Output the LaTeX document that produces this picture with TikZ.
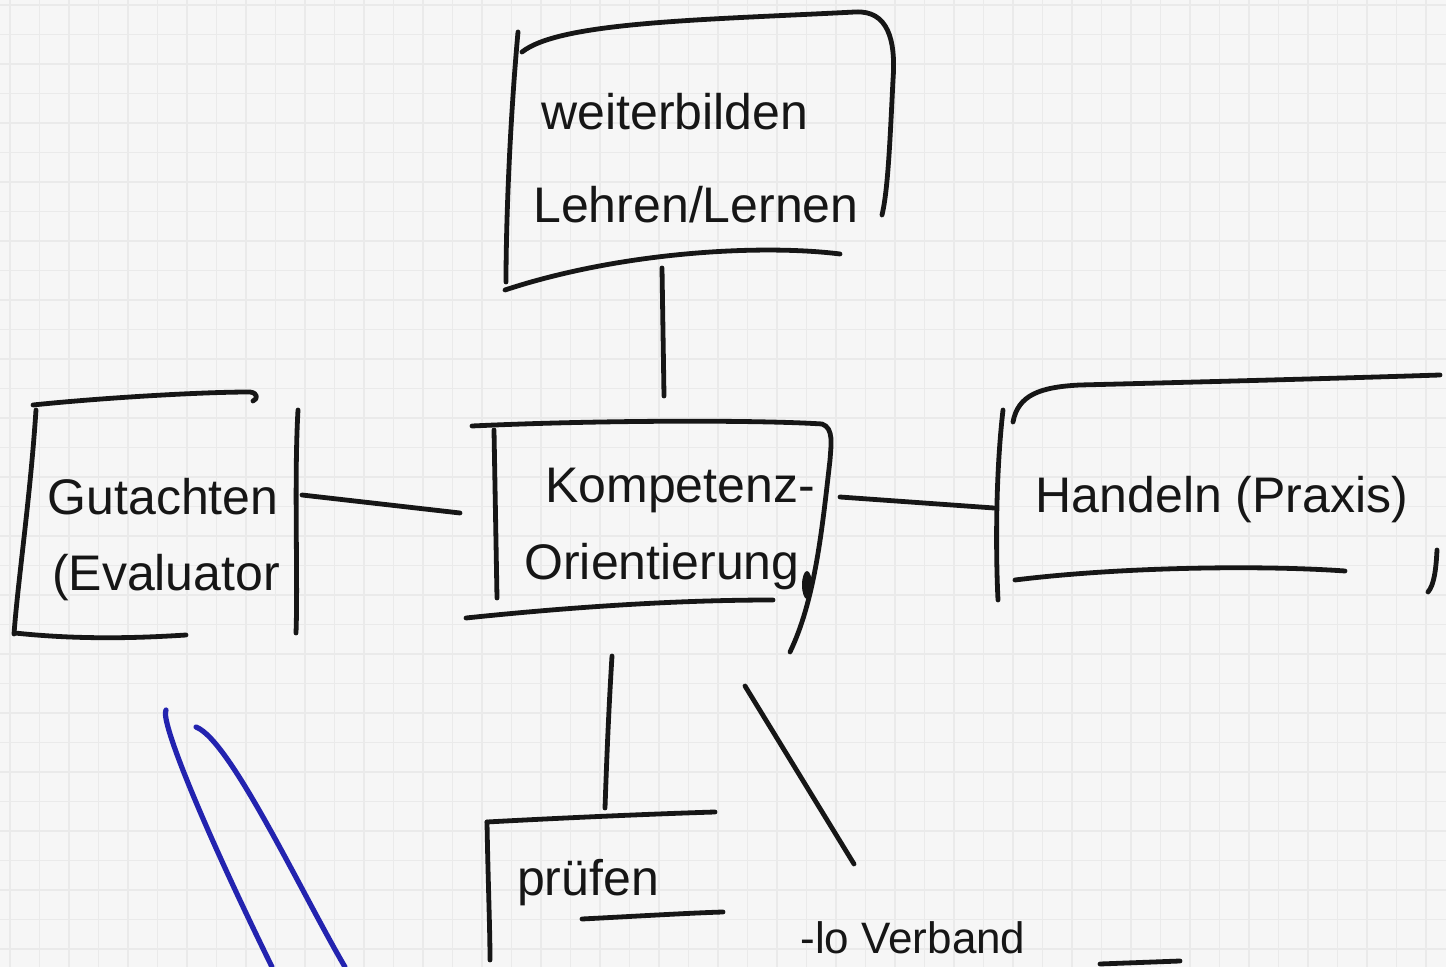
\documentclass[tikz,border=0pt]{standalone}
\usepackage{fontspec}
\setmainfont{Liberation Sans}
\definecolor{paper}{RGB}{246,246,246}
\definecolor{gridc}{RGB}{234,234,234}
\definecolor{ink}{RGB}{22,22,22}
\definecolor{blueink}{RGB}{35,35,175}
\tikzset{
  pen/.style={draw=ink,line width=2.4pt,line cap=round,line join=round},
  bluepen/.style={draw=blueink,line width=2.6pt,line cap=round},
  label/.style={text=ink,font=\fontsize{25}{28}\selectfont,inner sep=0pt,anchor=center},
}
\begin{document}
\begin{tikzpicture}[x=0.5pt,y=-0.5pt]
\useasboundingbox (0,0) rectangle (1446,967);
\fill[paper] (0,0) rectangle (1446,967);
\begin{scope}
\clip (0,0) rectangle (1446,967);
\foreach \i in {0,...,49} {\draw[gridc,line width=0.6pt] (\i*29.5+10,0) -- (\i*29.5+10,967);}
\foreach \j in {0,...,33} {\draw[gridc,line width=0.6pt] (0,\j*29.5+5) -- (1446,\j*29.5+5);}
\end{scope}

% ---- text nodes
\node[label] (w1) at (675,112) {weiterbilden};
\node[label] (w2) at (696,205) {Lehren/Lernen};
\node[label] (k1) at (680,490) {Kompetenz-};
\node[label] (k2) at (662,567) {Orientierung};
\node[label] (g1) at (163,497) {Gutachten};
\node[label] (g2) at (166,578) {(Evaluator};
\node[label] (h1) at (1222,500) {Handeln (Praxis)};
\node[label] (p1) at (588,883) {prüfen};
\node[label,font=\fontsize{22}{24}\selectfont,anchor=south west] (v1) at (800,954) {-lo Verband};

\begin{scope}
\clip (0,0) rectangle (1446,967);
% ---- top box
\draw[pen] (518,32) .. controls (510,120) and (506,220) .. (506,282);
\draw[pen] (522,52) .. controls (560,22) and (700,20) .. (855,12)
  .. controls (888,10) and (896,40) .. (893,80) .. controls (890,140) and (888,190) .. (882,215);
\draw[pen] (505,290) .. controls (620,252) and (760,244) .. (840,254);

% ---- centre box
\draw[pen] (494,430) -- (497,598);
\draw[pen] (472,426) .. controls (600,420) and (760,420) .. (822,424)
  .. controls (834,428) and (831,445) .. (830,460) .. controls (822,530) and (815,600) .. (790,652);
\draw[pen] (466,618) .. controls (600,604) and (700,600) .. (773,600);
\fill[ink] (807,585) ellipse (5 and 14);

% ---- left box
\draw[pen] (33,405) .. controls (100,398) and (200,392) .. (250,392) .. controls (258,393) and (258,399) .. (253,401);
\draw[pen] (36,410) .. controls (30,500) and (18,580) .. (14,634);
\draw[pen] (15,633) .. controls (80,640) and (140,638) .. (186,635);
\draw[pen] (298,410) .. controls (294,480) and (298,580) .. (296,633);

% ---- right box
\draw[pen] (1003,410) .. controls (995,480) and (996,560) .. (998,600);
\draw[pen] (1013,422) .. controls (1018,395) and (1040,387) .. (1080,385) .. controls (1200,382) and (1350,378) .. (1440,375);
\draw[pen] (1015,580) .. controls (1120,567) and (1260,565) .. (1345,571);
\draw[pen] (1437,550) .. controls (1436,570) and (1434,585) .. (1428,592);

% ---- pruefen box
\draw[pen] (487,822) .. controls (488,880) and (490,930) .. (490,960);
\draw[pen] (487,822) .. controls (560,818) and (650,814) .. (715,812);
\draw[pen] (582,919) .. controls (640,916) and (690,913) .. (723,912);
\draw[pen] (1100,964) -- (1180,961);

% ---- connectors
\coordinate (cT1) at (662,268);
\coordinate (cT2) at (664,396);
\coordinate (cL1) at (302,495);
\coordinate (cL2) at (460,513);
\coordinate (cR1) at (840,497);
\coordinate (cR2) at (994,508);
\coordinate (cD1) at (612,656);
\coordinate (cD2) at (605,808);
\coordinate (cG1) at (745,686);
\coordinate (cG2) at (854,864);
\draw[pen] (cT1) -- (cT2);
\draw[pen] (cL1) -- (cL2);
\draw[pen] (cR1) -- (cR2);
\draw[pen] (cD1) .. controls (608,720) and (606,780) .. (cD2);
\draw[pen] (cG1) -- (cG2);

% ---- blue strokes
\coordinate (b1) at (166,710);
\coordinate (b2) at (272,967);
\coordinate (b3) at (196,727);
\coordinate (b4) at (345,967);
\draw[bluepen] (b1) .. controls (160,720) and (200,820) .. (b2);
\draw[bluepen] (b3) .. controls (230,740) and (300,890) .. (b4);
\end{scope}
\end{tikzpicture}
\end{document}
